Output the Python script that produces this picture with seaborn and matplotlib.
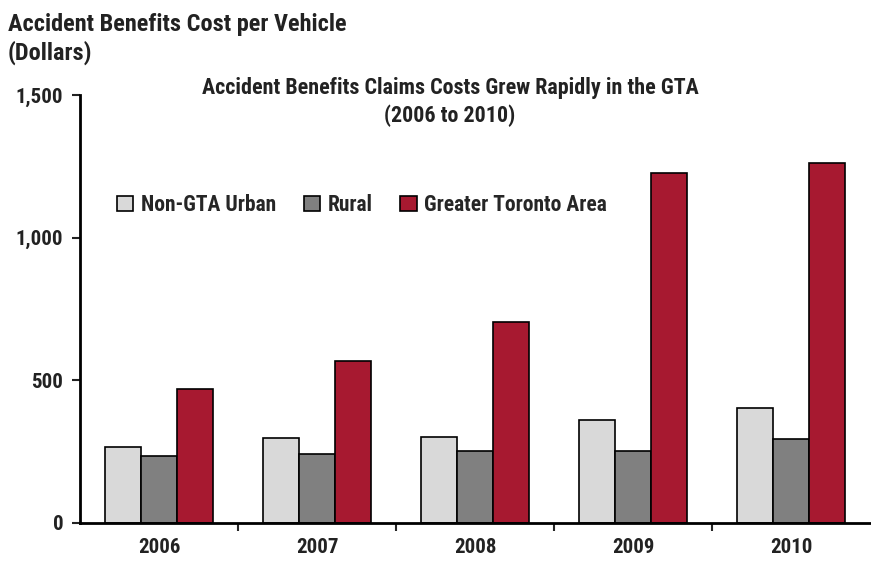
import pandas as pd
import matplotlib.pyplot as plt
import seaborn as sns

years = ['2006', '2007', '2008', '2009', '2010']
non_gta_urban = [266, 298, 301, 361, 403]
rural = [235, 242, 252, 252, 294]
gta = [470, 568, 704, 1227, 1262]
series_names = ['Non-GTA Urban', 'Rural', 'Greater Toronto Area']
colors = ['#d9d9d9', '#808080', '#a71930']

df = pd.DataFrame({'year': years * 3,
                   'region': [s for s in series_names for _ in years],
                   'cost': non_gta_urban + rural + gta})

sns.set_style('white')
plt.rcParams['font.family'] = ['Liberation Sans Narrow', 'Roboto Condensed',
                               'DejaVu Sans Condensed', 'Liberation Sans', 'DejaVu Sans']
plt.rcParams['font.stretch'] = 'condensed'
plt.rcParams['font.weight'] = 'bold'

fig = plt.figure(figsize=(8.71, 5.66), dpi=100)
ax = fig.add_axes([80/871, 43/566, 790/871, 428/566])

sns.barplot(data=df, x='year', y='cost', hue='region', palette=colors,
            width=0.68, gap=0, edgecolor='black', linewidth=1.2,
            saturation=1, ax=ax)

ax.set_xlim(-0.5, 4.5)
ax.set_ylim(0, 1500)
ax.set_yticks([0, 500, 1000, 1500])
ax.set_yticklabels(['0', '500', '1,000', '1,500'])
ax.set_xlabel('')
ax.set_ylabel('')
sns.despine(ax=ax)
for s in ['left', 'bottom']:
    ax.spines[s].set_linewidth(2)
    ax.spines[s].set_color('black')

ax.tick_params(axis='y', left=True, direction='out', length=6, width=1.5,
               labelsize=15, colors='#222222', pad=6)
ax.tick_params(axis='x', bottom=False, labelsize=15, colors='#222222', pad=7)
# ticks between groups
ax.set_xticks([0.5, 1.5, 2.5, 3.5], minor=True)
ax.tick_params(axis='x', which='minor', bottom=True, direction='out',
               length=6, width=1.5)

handles, labels = ax.get_legend_handles_labels()
leg = ax.legend(handles, labels, ncol=3, loc='center left',
                bbox_to_anchor=(37/790, (523 - 205)/428),
                frameon=False, fontsize=15.5, handlelength=0.75, handleheight=0.75,
                handletextpad=0.35, columnspacing=1.3, borderpad=0, borderaxespad=0)

fig.text(450/871, 1 - 88/566, 'Accident Benefits Claims Costs Grew Rapidly in the GTA',
         ha='center', va='center', fontsize=15.8, color='#222222')
fig.text(450/871, 1 - 116/566, '(2006 to 2010)', ha='center', va='center',
         fontsize=15.8, color='#222222')
fig.text(8/871, 1 - 25/566, 'Accident Benefits Cost per Vehicle', ha='left',
         va='center', fontsize=17.5, color='#222222')
fig.text(8/871, 1 - 53/566, '(Dollars)', ha='left', va='center', fontsize=17.5,
         color='#222222')

plt.savefig('out.png', dpi=100)
